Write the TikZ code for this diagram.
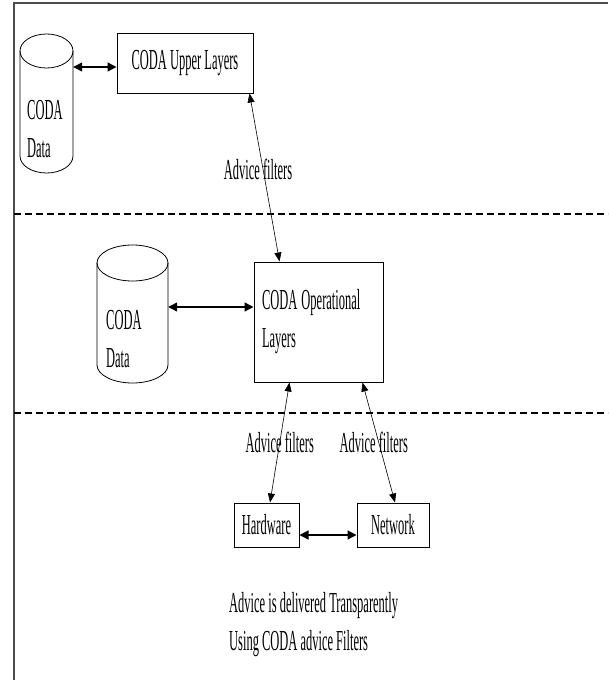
\documentclass[tikz,border=0pt]{standalone}
\usepackage{fontspec}
\setmainfont{Liberation Serif}
\usepackage{graphicx}
\usetikzlibrary{arrows.meta}

% narrow, tall lettering as in the scanned figure
\newcommand{\narrowtxt}[1]{\scalebox{0.43}[1]{#1}}

\tikzset{
    txt/.style={font=\fontsize{29}{38}\selectfont, inner sep=0pt},
    layerbox/.style={draw, line width=1pt, inner sep=0pt},
    dbody/.style={inner sep=0pt},
    link/.style={{Triangle[length=9pt,width=9pt]}-{Triangle[length=9pt,width=9pt]}, line width=1.3pt},
    advice/.style={{Triangle[length=9pt,width=7pt]}-{Triangle[length=9pt,width=7pt]}, line width=0.6pt},
    layerline/.style={dash pattern=on 7pt off 4pt, line width=1.1pt},
}

\begin{document}
\begin{tikzpicture}[x=1pt,y=-1pt]
        \useasboundingbox (0,0) rectangle (608,680);

        % 外框
        \draw[black!70, line width=1.5pt] (14,680) -- (14,3) -- (608,3);

        % 层分界
        \draw[layerline] (14,214) -- (608,214);
        \draw[layerline] (14,413) -- (608,413);

        % 上层: 数据与 Upper Layers
        \node[dbody, minimum width=53pt, minimum height=140pt] (data1) at (46.5,103) {};
        \draw[line width=0.8pt] (20,51) -- (20,156) arc[start angle=180, end angle=0, x radius=26.5, y radius=17] -- (73,51);
        \draw[line width=0.8pt] (46.5,51) ellipse[x radius=26.5, y radius=17];
        \node[txt, anchor=west, align=left] (data1txt) at (27,129) {\narrowtxt{CODA}\\\narrowtxt{Data}};

        \node[layerbox, txt, minimum width=136pt, minimum height=60pt] (upper) at (185,63) {\narrowtxt{CODA Upper Layers}};
        \draw[link] ([yshift=36pt]data1.east) -- ([yshift=-4pt]upper.west);

        % 中层: 数据与 Operational Layers
        \node[dbody, minimum width=71pt, minimum height=138pt] (data2) at (132.5,314) {};
        \draw[line width=0.8pt] (97,263) -- (97,365) arc[start angle=180, end angle=0, x radius=35.5, y radius=18] -- (168,263);
        \draw[line width=0.8pt] (132.5,263) ellipse[x radius=35.5, y radius=18];
        \node[txt, anchor=west, align=left] (data2txt) at (106,339) {\narrowtxt{CODA}\\\narrowtxt{Data}};

        \node[layerbox, txt, minimum width=129pt, minimum height=120pt, text width=113pt, align=left] (ops) at (318.5,322)
            {\narrowtxt{CODA Operational}\\\narrowtxt{Layers}};
        \draw[link] ([yshift=7pt]data2.east) -- ([yshift=15pt]ops.west);

        \draw[advice] ([xshift=-4pt]upper.south east) -- node[txt, pos=0.45, xshift=-5pt] (adv1) {\narrowtxt{Advice filters}} ([xshift=26pt]ops.north west);

        % 下层: Hardware 与 Network
        \node[layerbox, txt, minimum width=65pt, minimum height=44pt] (hw) at (266.5,525) {\narrowtxt{Hardware}};
        \node[layerbox, txt, minimum width=72pt, minimum height=44pt] (net) at (393,525) {\narrowtxt{Network}};

        \draw[advice] ([xshift=36pt]ops.south west) -- node[txt, pos=0.5] (adv2) {\narrowtxt{Advice filters}} ([xshift=3.5pt]hw.north);
        \draw[advice] ([xshift=-21pt]ops.south east) -- node[txt, pos=0.5, xshift=-5pt] (adv3) {\narrowtxt{Advice filters}} ([xshift=2pt]net.north);
        \draw[link] ([yshift=-10pt]hw.east) -- ([yshift=-10pt]net.west);

        % 说明
        \node[txt, anchor=west, align=left] (note) at (229,625)
            {\narrowtxt{Advice is delivered Transparently}\\\narrowtxt{Using CODA advice Filters}};

    \end{tikzpicture}
\end{document}
